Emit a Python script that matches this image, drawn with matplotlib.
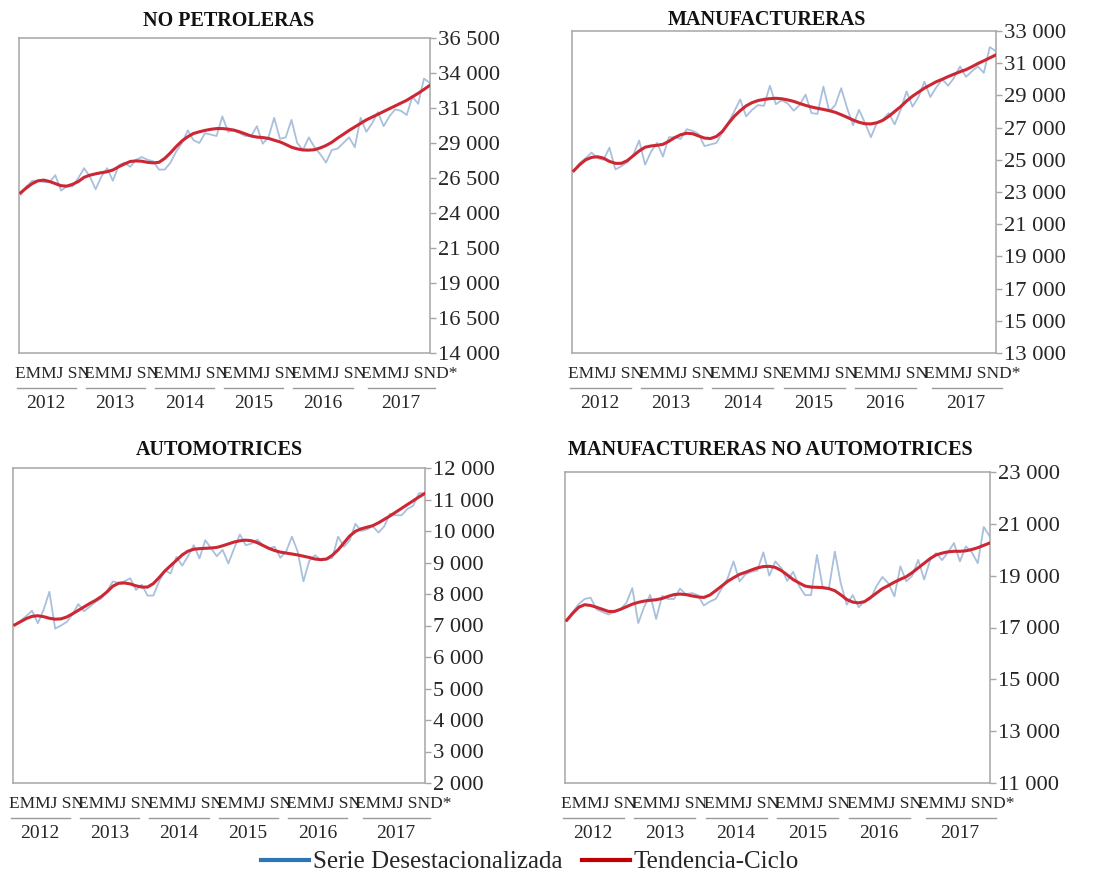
import numpy as np
import matplotlib
matplotlib.use('Agg')
import matplotlib.pyplot as plt
from matplotlib.transforms import ScaledTranslation
from matplotlib.lines import Line2D
from matplotlib.ticker import FuncFormatter

plt.rcParams['font.family'] = ['Liberation Serif', 'DejaVu Serif']

W, H = 1099, 875

years = ['2012', '2013', '2014', '2015', '2016', '2017']
month_strings = ['EMMJ SN', 'EMMJ SN', 'EMMJ SN', 'EMMJ SN', 'EMMJ SN', 'EMMJ SND*']
series_names = ['Serie Desestacionalizada', 'Tendencia-Ciclo']

titles = ['NO PETROLERAS', 'MANUFACTURERAS', 'AUTOMOTRICES', 'MANUFACTURERAS NO AUTOMOTRICES']

# ---- NO PETROLERAS ----
np_sa = [25300, 25900, 26300, 26300, 26200, 26200, 26700, 25600, 25900, 25900, 26500, 27200,
         26600, 25700, 26600, 27200, 26300, 27400, 27600, 27300, 27800, 28000, 27800, 27700,
         27100, 27100, 27600, 28400, 29000, 29900, 29200, 29000, 29700, 29600, 29500, 30900,
         29800, 29900, 29700, 29500, 29500, 30200, 28950, 29400, 30800, 29300, 29400, 30650,
         29000, 28500, 29400, 28700, 28200, 27600, 28500, 28600, 29000, 29400, 28700, 30800,
         29800, 30400, 31200, 30200, 30900, 31400, 31300, 31000, 32300, 31800, 33600, 33300]
np_tc = [25450, 25800, 26100, 26300, 26350, 26250, 26100, 25950, 25920, 26050, 26250, 26550,
         26700, 26800, 26880, 26950, 27070, 27300, 27500, 27680, 27720, 27700, 27620, 27580,
         27620, 27900, 28300, 28750, 29150, 29450, 29680, 29800, 29900, 29980, 30030, 30030,
         29990, 29920, 29800, 29650, 29500, 29420, 29390, 29330, 29200, 29080, 28900, 28700,
         28580, 28500, 28490, 28520, 28650, 28820, 29050, 29350, 29620, 29900, 30150, 30400,
         30650, 30850, 31050, 31250, 31450, 31650, 31850, 32050, 32300, 32550, 32830, 33110]

# ---- MANUFACTURERAS ----
man_sa = [24300, 24800, 25100, 25450, 25100, 25000, 25750, 24400, 24600, 24850, 25300, 26200,
          24700, 25500, 26050, 25200, 26400, 26400, 26300, 26900, 26800, 26600, 25850, 25950,
          26050, 26700, 27300, 28000, 28750, 27700, 28100, 28400, 28350, 29600, 28450, 28700,
          28500, 28050, 28400, 29050, 27900, 27850, 29550, 28000, 28400, 29450, 28200, 27150,
          28100, 27300, 26400, 27300, 27500, 27900, 27200, 28100, 29250, 28300, 28900, 29850,
          28900, 29500, 30000, 29600, 30100, 30800, 30150, 30500, 30800, 30400, 32000, 31750]
man_tc = [24320, 24700, 25000, 25150, 25190, 25100, 24900, 24780, 24780, 24950, 25250, 25550,
          25780, 25860, 25900, 25960, 26150, 26380, 26560, 26650, 26620, 26480, 26350, 26320,
          26450, 26760, 27250, 27700, 28050, 28350, 28550, 28680, 28750, 28800, 28820, 28790,
          28720, 28630, 28500, 28380, 28280, 28200, 28130, 28050, 27950, 27800, 27640, 27470,
          27330, 27240, 27230, 27300, 27450, 27700, 28000, 28300, 28650, 28950, 29200, 29450,
          29650, 29850, 30000, 30170, 30320, 30470, 30600, 30780, 30980, 31150, 31330, 31510]

# ---- AUTOMOTRICES ----
aut_sa = [7000, 7150, 7300, 7470, 7070, 7500, 8070, 6900, 7000, 7110, 7350, 7680,
          7450, 7600, 7750, 7860, 8100, 8400, 8350, 8400, 8500, 8130, 8300, 7950,
          7950, 8400, 8750, 8650, 9180, 8900, 9200, 9550, 9130, 9710, 9450, 9200,
          9400, 8970, 9450, 9890, 9550, 9600, 9730, 9550, 9450, 9500, 9150, 9350,
          9820, 9350, 8400, 9050, 9230, 9080, 9100, 9150, 9820, 9500, 9700, 10230,
          10000, 10050, 10150, 9950, 10150, 10550, 10500, 10500, 10700, 10800, 11200, 11200]
aut_tc = [7020, 7120, 7220, 7290, 7310, 7280, 7230, 7200, 7210, 7270, 7370, 7480,
          7590, 7700, 7800, 7920, 8070, 8250, 8340, 8350, 8320, 8260, 8220, 8220,
          8330, 8520, 8730, 8900, 9070, 9240, 9360, 9420, 9440, 9450, 9460, 9480,
          9530, 9590, 9650, 9690, 9710, 9690, 9630, 9540, 9450, 9380, 9330, 9300,
          9270, 9240, 9200, 9160, 9110, 9090, 9110, 9230, 9400, 9620, 9840, 9990,
          10070, 10120, 10170, 10260, 10370, 10480, 10600, 10720, 10840, 10960, 11080, 11190]

# ---- MANUFACTURERAS NO AUTOMOTRICES ----
mna_sa = [17300, 17600, 17900, 18100, 18150, 17700, 17600, 17500, 17600, 17700, 17950, 18520,
          17170, 17800, 18260, 17330, 18220, 18100, 18100, 18500, 18280, 18330, 18250, 17850,
          18000, 18100, 18500, 18900, 19550, 18780, 19050, 19150, 19200, 19900, 19000, 19550,
          19300, 18800, 19150, 18600, 18250, 18250, 19800, 18500, 18500, 19930, 18700, 17880,
          18250, 17780, 18000, 18100, 18600, 18950, 18700, 18200, 19360, 18780, 19000, 19610,
          18850, 19600, 19870, 19600, 19900, 20260, 19550, 20130, 19900, 19480, 20880, 20520]
mna_tc = [17280, 17550, 17780, 17880, 17850, 17780, 17700, 17620, 17620, 17700, 17800, 17900,
          17970, 18020, 18050, 18070, 18120, 18200, 18270, 18290, 18270, 18220, 18180, 18160,
          18250, 18420, 18600, 18780, 18920, 19050, 19130, 19220, 19300, 19350, 19360, 19320,
          19200, 19030, 18850, 18720, 18600, 18560, 18550, 18540, 18500, 18420, 18260, 18080,
          17980, 17950, 18000, 18160, 18330, 18500, 18620, 18750, 18860, 18960, 19120, 19300,
          19480, 19660, 19800, 19870, 19920, 19940, 19940, 19960, 20010, 20080, 20170, 20260]

y_ticks = [
    [14000, 16500, 19000, 21500, 24000, 26500, 29000, 31500, 34000, 36500],
    [13000, 15000, 17000, 19000, 21000, 23000, 25000, 27000, 29000, 31000, 33000],
    [2000, 3000, 4000, 5000, 6000, 7000, 8000, 9000, 10000, 11000, 12000],
    [11000, 13000, 15000, 17000, 19000, 21000, 23000],
]
data = [(np_sa, np_tc), (man_sa, man_tc), (aut_sa, aut_tc), (mna_sa, mna_tc)]

# layout (pixel boxes: left, top, right, bottom) and title centres
boxes = [(19, 38, 430, 353), (572, 31, 996, 353), (13, 468, 425, 783), (565, 472, 990, 783)]
title_pos = [(229, 21), (767, 20), (219, 450), (770, 450)]

BLUE_LINE = '#a9c0dc'
RED_LINE = '#cc2733'
SPINE = '#a6a6a6'
TXT = '#262626'

fig = plt.figure(figsize=(W / 100, H / 100), dpi=100)

fmt = FuncFormatter(lambda v, p: f"{int(round(v)):,}".replace(',', ' '))

for i in range(4):
    l, t, r, b = boxes[i]
    ax = fig.add_axes([l / W, 1 - b / H, (r - l) / W, (b - t) / H])
    sa, tc = data[i]
    x = np.arange(len(sa))
    ax.plot(x, sa, color=BLUE_LINE, lw=1.3, zorder=2)
    ax.plot(x, tc, color=RED_LINE, lw=2.2, zorder=3)
    ax.set_xlim(-0.3, len(sa) - 0.95)
    yt = y_ticks[i]
    ax.set_ylim(yt[0], yt[-1])
    ax.set_yticks(yt)
    ax.yaxis.set_major_formatter(fmt)
    ax.yaxis.tick_right()
    ax.tick_params(axis='y', direction='out', length=4, width=1, color=SPINE,
                   labelsize=16.2, labelcolor=TXT, pad=2)
    ax.set_xticks([])
    for s in ax.spines.values():
        s.set_color(SPINE)
        s.set_linewidth(1.1)

    xt = ax.get_xaxis_transform()
    for k, yr in enumerate(years):
        ys = 12 * k
        ax.text(ys - 1.0, 0, month_strings[k],
                transform=xt + ScaledTranslation(0, -21 / 100, fig.dpi_scale_trans),
                ha='left', va='center', fontsize=12.5, color=TXT, clip_on=False)
        if k < len(years) - 1:
            x0, x1, xc = ys - 0.7, ys + 9.6, ys + 4.4
        else:
            x0, x1, xc = ys + 0.3, ys + 12.0, ys + 6.0
        ax.plot([x0, x1], [0, 0], transform=xt + ScaledTranslation(0, -35 / 100, fig.dpi_scale_trans),
                color='#9a9a9a', lw=1.0, clip_on=False)
        ax.text(xc, 0, yr, transform=xt + ScaledTranslation(0, -50 / 100, fig.dpi_scale_trans),
                ha='center', va='center', fontsize=14, color=TXT, clip_on=False)

    tx, ty = title_pos[i]
    fig.text(tx / W, 1 - ty / H, titles[i], ha='center', va='center', fontsize=14.5,
             fontweight='bold', color='#111111')

handles = [Line2D([], [], color='#2e75b6', lw=3), Line2D([], [], color='#c00000', lw=3)]
fig.legend(handles, series_names, loc='center', bbox_to_anchor=(530 / W, 1 - 862 / H), ncol=2,
           frameon=False, fontsize=18, handlelength=1.9, handletextpad=0.15, columnspacing=0.8,
           labelcolor=TXT)

fig.savefig('out.png', dpi=100)
